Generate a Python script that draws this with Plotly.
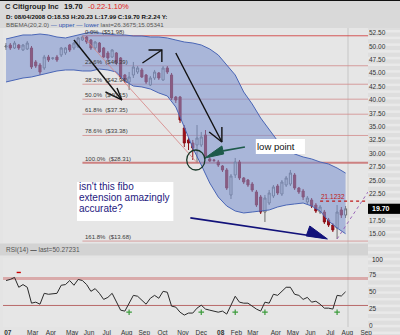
import plotly.graph_objects as go
import pandas as pd

# ---------------- data ----------------
dates = pd.date_range(end="2008-08-04", periods=81, freq="W-MON")

opens = [49.89, 50.26, 49.70, 50.26, 49.33, 49.51, 49.70, 47.09, 46.53, 45.97,
         48.02, 47.74, 48.02, 48.40, 48.77, 50.26, 49.70, 49.89, 51.19, 51.75,
         51.19, 49.70, 50.63, 49.70, 48.77, 48.02, 48.77, 47.84, 44.66, 43.36,
         44.66, 45.22, 45.60, 44.66, 42.80, 44.10, 45.04, 43.73, 45.97, 44.66,
         40.56, 40.56, 34.78, 32.54, 31.98, 31.60, 31.60, 33.47, 29.00, 28.81,
         28.43, 27.69, 26.94, 22.28, 26.01, 28.43, 25.45, 25.07, 24.32, 22.84,
         21.90, 19.10, 20.78, 22.09, 23.95, 22.46, 24.14, 24.32, 26.01, 23.58,
         23.02, 20.97, 21.34, 20.41, 19.10, 19.10, 17.61, 16.68, 16.12, 19.48,
         18.53]
highs = [50.63, 50.63, 51.01, 50.45, 50.45, 51.01, 50.07, 47.46, 46.90, 48.40,
         48.40, 48.02, 48.40, 49.89, 49.89, 50.45, 50.82, 51.75, 51.98, 51.94,
         51.38, 51.01, 50.82, 49.89, 49.14, 49.51, 48.95, 48.02, 44.85, 45.22,
         47.09, 46.34, 45.97, 44.85, 44.48, 45.60, 45.22, 46.34, 46.34, 45.04,
         40.75, 40.75, 35.33, 33.10, 32.54, 35.33, 34.03, 34.40, 29.37, 29.00,
         28.81, 27.87, 27.31, 26.19, 29.18, 28.81, 25.63, 25.26, 24.70, 23.21,
         22.28, 22.28, 23.21, 24.14, 24.32, 25.07, 25.82, 26.94, 26.38, 23.77,
         23.40, 22.09, 21.71, 20.78, 20.41, 19.48, 17.99, 17.05, 20.41, 20.04,
         20.23]
lows = [49.33, 49.33, 49.51, 49.33, 49.14, 49.33, 45.78, 45.97, 44.66, 45.60,
        47.09, 47.46, 47.09, 48.02, 48.40, 48.95, 49.33, 49.70, 51.01, 50.45,
        49.33, 49.33, 48.77, 47.84, 47.46, 47.84, 46.53, 43.92, 43.17, 41.87,
        44.10, 44.85, 44.10, 42.99, 42.61, 43.73, 43.73, 43.55, 44.85, 40.00,
        39.44, 35.71, 31.23, 30.67, 28.81, 28.31, 31.23, 29.00, 28.43, 28.43,
        27.50, 26.57, 23.21, 21.53, 25.45, 25.07, 24.32, 23.77, 22.84, 20.04,
        18.73, 17.24, 20.41, 21.71, 22.28, 22.09, 23.77, 23.95, 23.21, 22.46,
        21.34, 20.60, 19.85, 18.92, 18.73, 16.87, 16.31, 15.37, 14.07, 17.99,
        17.99]
closes = [50.07, 49.70, 50.63, 49.70, 50.26, 50.63, 46.16, 46.34, 45.22, 48.02,
          47.46, 47.84, 47.46, 49.70, 49.70, 49.33, 50.63, 51.57, 51.75, 50.82,
          49.70, 50.82, 48.95, 48.02, 47.84, 49.33, 46.90, 44.29, 43.73, 44.29,
          46.16, 45.97, 44.29, 43.36, 44.10, 45.22, 44.10, 45.97, 45.22, 40.37,
          40.00, 36.27, 31.98, 31.98, 31.04, 32.91, 33.10, 29.37, 28.62, 28.72,
          27.87, 26.94, 23.58, 25.82, 28.43, 25.45, 24.70, 24.14, 23.21, 20.41,
          19.10, 21.71, 22.65, 23.77, 22.65, 24.70, 25.45, 26.38, 23.58, 22.84,
          21.90, 21.71, 20.22, 19.29, 20.04, 17.24, 16.68, 15.75, 19.10, 18.54,
          19.70]

# Bollinger band (EMA 20, 2.0) read every second week
band_dates = dates[::2]
bb_upper = [51.38, 51.75, 52.13, 52.13, 52.31, 52.13, 51.75, 51.57, 51.94, 52.31,
            52.69, 52.50, 52.31, 52.13, 52.13, 51.94, 51.94, 51.75, 51.75, 51.57,
            51.19, 50.82, 50.63, 50.26, 49.51, 48.40, 46.53, 44.66, 41.49, 39.25,
            36.64, 34.40, 32.35, 30.85, 29.93, 29.37, 29.00, 28.43, 28.06, 27.31,
            26.37]
bb_lower = [43.36, 43.73, 44.10, 44.29, 44.66, 45.04, 45.41, 45.60, 45.60, 45.41,
            45.41, 45.78, 45.60, 45.22, 43.55, 42.61, 42.43, 42.05, 41.31, 40.75,
            38.69, 34.96, 31.04, 27.87, 24.51, 21.90, 20.22, 19.29, 18.92, 19.10,
            19.29, 19.48, 20.04, 20.41, 20.60, 20.78, 20.22, 19.29, 17.43, 16.12,
            15.05]

rsi = [67.0, 68.7, 71.6, 57.0, 61.0, 57.0, 33.4, 34.9, 31.9, 48.0,
       46.6, 47.0, 48.0, 60.0, 61.0, 67.0, 60.0, 68.7, 67.0, 61.0,
       51.0, 55.0, 48.0, 39.0, 42.0, 48.0, 35.0, 23.0, 21.6, 33.0,
       45.0, 43.7, 37.8, 31.9, 40.7, 45.0, 40.7, 51.0, 49.6, 29.0,
       27.5, 20.0, 15.7, 18.7, 18.7, 26.0, 30.4, 24.6, 23.0, 21.6,
       20.0, 21.6, 17.2, 30.4, 43.7, 34.9, 33.4, 33.4, 29.0, 24.6,
       21.6, 34.9, 33.4, 46.6, 45.0, 51.0, 57.0, 57.0, 46.6, 45.0,
       39.0, 42.0, 34.9, 36.3, 31.9, 26.0, 26.0, 24.6, 45.0, 44.0,
       50.27]
buy_idx = [29, 46, 54, 61, 78]
sell_idx = [3]

fib_pcts = ["0.0%", "23.6%", "38.2%", "50.0%", "61.8%", "78.6%", "100.0%", "161.8%"]
fib_prices = [51.98, 46.39, 42.94, 40.15, 37.35, 33.38, 28.31, 13.68]
fib_high_idx, fib_low_idx = 18, 45

price_ticks = [15, 17.5, 22.5, 25, 27.5, 30, 32.5, 35, 37.5, 40, 42.5, 45, 47.5, 50, 52.5]
rsi_ticks = [0, 25, 50, 75, 100]
month_tick_dates = ["2007-01-25", "2007-03-07", "2007-04-06", "2007-05-11", "2007-06-08",
                    "2007-07-07", "2007-08-09", "2007-09-07", "2007-10-07", "2007-11-10",
                    "2007-12-10", "2008-01-11", "2008-02-06", "2008-03-04", "2008-04-11",
                    "2008-05-09", "2008-06-07", "2008-07-10", "2008-08-07", "2008-09-07"]
month_tick_labels = ["<b>07</b>", "Mar", "Apr", "May", "Jun", "Jul", "Aug", "Sep", "Oct", "Nov",
                     "Dec", "<b>08</b>", "Feb", "Mar", "Apr", "May", "Jun", "Jul", "Aug", "Sep"]

last_price = 19.70
marker_level = 21.1232
x_range = ["2007-01-17", "2008-09-10"]

# ---------------- helpers (paper coords) ----------------
W, H = 400, 335
def px(x):
    return x / W
def py(y):
    return 1 - y / H

FONT = "Liberation Sans, Arial, sans-serif"
fig = go.Figure()

# Bollinger band
fig.add_trace(go.Scatter(x=band_dates, y=bb_upper, mode="lines",
                         line=dict(color="#4a66b6", width=1), hoverinfo="skip", showlegend=False))
fig.add_trace(go.Scatter(x=band_dates, y=bb_lower, mode="lines",
                         line=dict(color="#4a66b6", width=1), fill="tonexty",
                         fillcolor="rgba(124,147,206,0.58)", hoverinfo="skip", showlegend=False))

# fib trend line (high -> low)
fig.add_trace(go.Scatter(x=[dates[fib_high_idx], dates[fib_low_idx]], y=[fib_prices[0], fib_prices[6]],
                         mode="lines", line=dict(color="rgba(215,130,130,0.8)", width=1),
                         hoverinfo="skip", showlegend=False))

# candles
fig.add_trace(go.Candlestick(x=dates, open=opens, high=highs, low=lows, close=closes,
                             increasing=dict(line=dict(color="#6e6e6e", width=1), fillcolor="#ececec"),
                             decreasing=dict(line=dict(color="#8c0c14", width=1), fillcolor="#a0101a"),
                             whiskerwidth=0, hoverinfo="skip", showlegend=False))

# purple projection line
fig.add_trace(go.Scatter(x=[dates[78], x_range[1]], y=[lows[78], 22.84], mode="lines",
                         line=dict(color="#9a66b8", width=1, dash="dot"), hoverinfo="skip", showlegend=False))

# hand-drawn arrows
def add_line(xs, ys, color, width=1.4, fill=False):
    fig.add_trace(go.Scatter(x=xs, y=ys, mode="lines", line=dict(color=color, width=width),
                             fill="toself" if fill else None, fillcolor=color if fill else None,
                             hoverinfo="skip", showlegend=False))

add_line(["2007-05-14", "2007-08-01"], [51.19, 40.0], "#111111")
add_line(["2007-07-05", "2007-08-01", "2007-07-24"], [41.49, 40.0, 42.24], "#111111")
add_line(["2007-09-04", "2007-10-06"], [46.90, 49.33], "#111111")
add_line(["2007-09-14", "2007-10-06", "2007-10-06"], [49.33, 49.33, 47.09], "#111111")
add_line(["2007-10-29", "2008-01-13"], [48.77, 32.16], "#111111")
add_line(["2007-12-23", "2008-01-13", "2008-01-13"], [34.03, 32.16, 34.96], "#111111")
# teal arrow to the low
add_line(["2008-01-15", "2008-02-20"], [30.5, 31.23], "#1d5a4a", width=1.6)
add_line(["2007-12-16", "2008-01-13", "2008-01-16", "2007-12-16"], [29.18, 31.42, 29.93, 29.18],
         "#1d5a4a", width=1, fill=True)
# navy arrow at the bottom
add_line(["2007-11-22", "2008-06-30"], [18.0, 14.3], "#12127a", width=1.6)
add_line(["2008-06-06", "2008-05-31", "2008-07-05", "2008-06-06"], [16.49, 14.63, 14.07, 16.49],
         "#12127a", width=1, fill=True)

# RSI
fig.add_trace(go.Scatter(x=dates, y=rsi, mode="lines", line=dict(color="#2a2a2a", width=1),
                         xaxis="x2", yaxis="y2", hoverinfo="skip", showlegend=False))
fig.add_trace(go.Scatter(x=[dates[i] for i in buy_idx], y=[20] * len(buy_idx), mode="markers",
                         marker=dict(symbol="cross-thin", size=4, line=dict(color="#3c9c3c", width=1.2)),
                         xaxis="x2", yaxis="y2", hoverinfo="skip", showlegend=False))
fig.add_trace(go.Scatter(x=[dates[i] for i in sell_idx], y=[79] * len(sell_idx), mode="markers",
                         marker=dict(symbol="line-ew", size=3, line=dict(color="#cc0000", width=1.4)),
                         xaxis="x2", yaxis="y2", hoverinfo="skip", showlegend=False))

shapes = []
# header and panels backgrounds
shapes.append(dict(type="rect", xref="paper", yref="paper", x0=0, x1=1, y0=py(28), y1=1,
                   fillcolor="#d9d9d9", line_width=0, layer="below"))
shapes.append(dict(type="line", xref="paper", yref="paper", x0=0, x1=1, y0=py(0.5), y1=py(0.5),
                   line=dict(color="#111", width=1)))
shapes.append(dict(type="rect", xref="paper", yref="paper", x0=px(368), x1=1, y0=0, y1=py(28),
                   fillcolor="#dedede", line_width=0, layer="below"))
y = 30.0
while y < 335:
    shapes.append(dict(type="rect", xref="paper", yref="paper", x0=px(368), x1=1,
                       y0=py(y + 2.5), y1=py(y), fillcolor="#e9e9e9", line_width=0, layer="below"))
    y += 6.7
shapes.append(dict(type="rect", xref="paper", yref="paper", x0=0, x1=px(368), y0=py(255.5), y1=py(243.5),
                   fillcolor="#d3d3d3", line_width=0, layer="below"))
# data-end divider
shapes.append(dict(type="line", xref="x", yref="paper", x0="2008-08-08", x1="2008-08-08",
                   y0=py(327), y1=py(28), line=dict(color="#c6c6c6", width=1), layer="below"))
# fib levels
for i, (pct, pr) in enumerate(zip(fib_pcts, fib_prices)):
    if i == 0:
        col, wd = "rgba(208,70,70,0.9)", 1
    elif i == 6:
        col, wd = "rgba(200,110,110,0.85)", 2
    else:
        col, wd = "rgba(210,140,140,0.8)", 1
    shapes.append(dict(type="line", xref="x", yref="y", x0=dates[fib_high_idx], x1=x_range[1],
                       y0=pr, y1=pr, line=dict(color=col, width=wd), layer="below"))
# marker level
shapes.append(dict(type="line", xref="x", yref="y", x0="2008-06-23", x1=x_range[1],
                   y0=marker_level, y1=marker_level, line=dict(color="#c01818", width=1.2, dash="dot")))
# RSI 70/30
shapes.append(dict(type="line", xref="x2 domain", yref="y2", x0=0, x1=1, y0=70, y1=70,
                   line=dict(color="rgba(205,120,120,0.55)", width=3), layer="below"))
shapes.append(dict(type="line", xref="x2 domain", yref="y2", x0=0, x1=1, y0=30, y1=30,
                   line=dict(color="#b86a6a", width=1), layer="below"))
# circle round the low
shapes.append(dict(type="circle", xref="x", yref="y", x0="2007-11-16", x1="2007-12-16",
                   y0=26.94, y1=30.67, line=dict(color="#183828", width=1.3)))
# white note boxes
shapes.append(dict(type="rect", xref="x", yref="y", x0="2008-03-09", x1="2008-05-29",
                   y0=29.93, y1=32.72, fillcolor="white", line_width=0, layer="above"))
shapes.append(dict(type="rect", xref="x", yref="y", x0="2007-05-19", x1="2007-10-25",
                   y0=17.43, y1=24.70, fillcolor="white", line_width=0, layer="above"))
# last price tag
shapes.append(dict(type="rect", xref="paper", yref="y", x0=px(368), x1=1,
                   y0=last_price - 0.95, y1=last_price + 0.95, fillcolor="#000", line_width=0, layer="above"))

ann = []
def txt(x, y, text, size=6.5, color="#333", xanchor="left", yanchor="middle", xref="paper", yref="paper", **kw):
    ann.append(dict(x=x, y=y, xref=xref, yref=yref, text=text, showarrow=False, xanchor=xanchor,
                    yanchor=yanchor, font=dict(family=FONT, size=size, color=color), borderpad=0, **kw))

txt(px(4), py(7), "<b>C Citigroup Inc</b>", size=7.5, color="#222")
txt(px(63), py(7), "<b>19.70</b>", size=7.5, color="#111")
txt(px(87), py(7), "-0.22", size=7.5, color="#e01818")
txt(px(104), py(7), "-1.10%", size=7.5, color="#e01818")
txt(px(5), py(16), "<b>D: 08/04/2008 O:18.53 H:20.23 L:17.99 C:19.70 R:2.24 Y:</b>", size=6.2, color="#111")
txt(px(5), py(24.5), "BBEMA(20,2.0) <span style='color:#2850b0'>— upper — lower</span> last=26.3675;15.05341",
    size=6.2, color="#555")
txt(px(5), py(250), "RSI(14) <span style='color:#000'>—</span> last=50.27231", size=6.5, color="#555")
# top RSI tick label
txt(px(371), py(259.5), f"{rsi_ticks[-1]:d}", size=6.5, color="#222")

for pct, pr in zip(fib_pcts, fib_prices):
    txt(dates[fib_high_idx], pr, f"{pct}  (${pr:.2f})", size=6, color="#3a3a3a",
        xref="x", yref="y", yanchor="bottom", xshift=2)
txt("2008-06-23", marker_level, f"{marker_level:.4f}", size=6.5, color="#c01818", xref="x", yref="y",
    yanchor="bottom")
txt(px(371), last_price, "<b>19.70</b>", size=7, color="#fff", yref="y")
txt("2008-03-10", 31.3, "low point", size=9.5, color="#111", xref="x", yref="y")
for line_txt, yy in zip(["isn't this fibo", "extension amazingly", "accurate?"], [23.77, 21.72, 19.82]):
    txt("2007-05-20", yy, line_txt, size=10, color="#1e2080", xref="x", yref="y")

fig.update_layout(
    width=W, height=H, margin=dict(l=0, r=0, t=0, b=0),
    paper_bgcolor="#e4e4e4", plot_bgcolor="#e6e6e6",
    showlegend=False, shapes=shapes, annotations=ann,
    font=dict(family=FONT, size=6.5, color="#333"),
    xaxis=dict(domain=[px(3), px(368)], range=x_range, type="date", showticklabels=False,
               showgrid=False, zeroline=False, rangeslider=dict(visible=False), anchor="y", fixedrange=True),
    yaxis=dict(domain=[py(243), py(28)], range=[13.32, 53.43], side="right", anchor="x",
               tickvals=price_ticks, ticktext=[f"{v:.2f}" for v in price_ticks],
               tickfont=dict(size=6.5, color="#333"), showgrid=False, zeroline=False, ticks="",
               automargin=False, ticklabeloverflow="allow"),
    xaxis2=dict(domain=[px(3), px(368)], range=x_range, type="date", anchor="y2", matches="x",
                tickvals=month_tick_dates, ticktext=month_tick_labels, tickfont=dict(size=6.5, color="#333"),
                showgrid=False, zeroline=False, ticks="", automargin=False, ticklabeloverflow="allow"),
    yaxis2=dict(domain=[py(327), py(258)], range=[-2, 100.5], side="right", anchor="x2",
                tickvals=rsi_ticks[:-1], ticktext=[str(v) for v in rsi_ticks[:-1]],
                tickfont=dict(size=6.5, color="#333"), showgrid=False, zeroline=False, ticks="",
                automargin=False, ticklabeloverflow="allow"),
)

fig.write_html("out.html")
